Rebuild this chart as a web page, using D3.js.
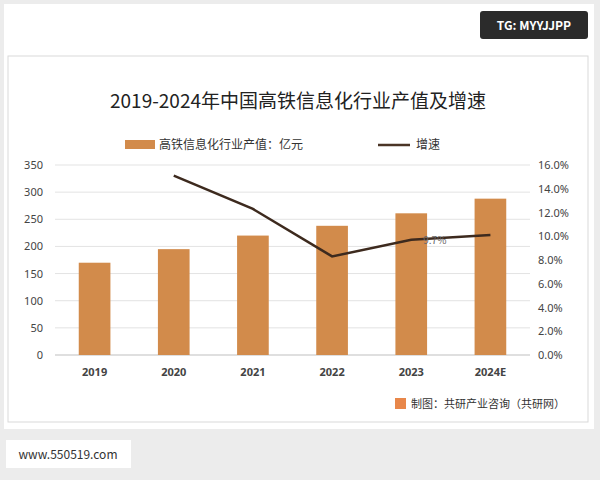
<!DOCTYPE html>
<html><head><meta charset="utf-8">
<script src="https://cdn.jsdelivr.net/npm/d3@7"></script>
<style>body{margin:0;background:#ececec;font-family:"Noto Sans CJK SC","Noto Sans",sans-serif}</style>
</head><body><svg id="c" width="600" height="480"></svg>
<script>
const years = ["2019", "2020", "2021", "2022", "2023", "2024E"];
const values = [170, 195, 220, 238, 261, 288]; // 亿元
const growth = [null, 15.1, 12.3, 8.3, 9.7, 10.1]; // %
const leftTicks = [0, 50, 100, 150, 200, 250, 300, 350];
const rightTicks = [0, 2, 4, 6, 8, 10, 12, 14, 16];

const svg = d3.select("#c");
svg.append("rect").attr("width", 600).attr("height", 480).attr("fill", "#ececec");
// card
svg.append("rect").attr("x", 4).attr("y", 4).attr("width", 590).attr("height", 425).attr("fill", "#fff");
svg.append("rect").attr("x", 8).attr("y", 56).attr("width", 580).attr("height", 366)
    .attr("fill", "#fff").attr("stroke", "#d9d9d9");

// badge
svg.append("rect").attr("x", 480).attr("y", 11).attr("width", 108).attr("height", 28).attr("rx", 3).attr("fill", "#2b2b2b");
svg.append("text").attr("x", 534).attr("y", 30).attr("text-anchor", "middle").attr("fill", "#fff")
    .style("font-size", "12px").style("font-weight", "bold").text("TG: MYYJJPP");

svg.append("rect").attr("x", 6).attr("y", 440).attr("width", 125).attr("height", 28).attr("fill", "#fff");
svg.append("text").attr("x", 68).attr("y", 459).attr("text-anchor", "middle").attr("fill", "#333")
    .style("font-size", "12px").text("www.550519.com");

svg.append("text").attr("x", 298).attr("y", 108).attr("text-anchor", "middle").attr("fill", "#222")
    .style("font-size", "19px").text("2019-2024年中国高铁信息化行业产值及增速");

// legend
svg.append("rect").attr("x", 125).attr("y", 140).attr("width", 30).attr("height", 9).attr("fill", "#d28b4b");
svg.append("text").attr("x", 159).attr("y", 149).style("font-size", "12px").attr("fill", "#333").text("高铁信息化行业产值：亿元");
svg.append("line").attr("x1", 378).attr("x2", 410).attr("y1", 145).attr("y2", 145).attr("stroke", "#4a3426").attr("stroke-width", 2.5);
svg.append("text").attr("x", 416).attr("y", 149).style("font-size", "12px").attr("fill", "#333").text("增速");

const plotL = 55, plotR = 530, plotT = 165, plotB = 355;
const x = d3.scaleBand().domain(years).range([plotL, plotR]).paddingInner(0.6).paddingOuter(0.3);
const y = d3.scaleLinear().domain([0, 350]).range([plotB, plotT]);
const y2 = d3.scaleLinear().domain([0, 16]).range([plotB, plotT]);

const g = svg.append("g");
g.selectAll("line.grid").data(leftTicks).enter().append("line")
    .attr("x1", plotL).attr("x2", plotR).attr("y1", d => y(d)).attr("y2", d => y(d))
    .attr("stroke", d => d === 0 ? "#bfbfbf" : "#e3e3e3");

const ax = g.append("g").attr("transform", `translate(${plotL},0)`)
    .call(d3.axisLeft(y).tickValues(leftTicks).tickSize(0).tickPadding(12));
const ax2 = g.append("g").attr("transform", `translate(${plotR},0)`)
    .call(d3.axisRight(y2).tickValues(rightTicks).tickSize(0).tickPadding(8).tickFormat(d => d.toFixed(1) + "%"));
const axb = g.append("g").attr("transform", `translate(0,${plotB})`)
    .call(d3.axisBottom(x).tickSize(0).tickPadding(13));
[ax, ax2, axb].forEach(a => { a.select(".domain").remove(); a.selectAll("text").attr("fill", "#444").style("font-size", "11px").style("font-family", "Noto Sans, sans-serif"); });
axb.selectAll("text").style("font-weight", "bold");

g.selectAll("rect.bar").data(values).enter().append("rect")
    .attr("x", (d, i) => x(years[i])).attr("width", x.bandwidth())
    .attr("y", d => y(d)).attr("height", d => plotB - y(d)).attr("fill", "#d28b4b");

const pts = years.map((yr, i) => [yr, growth[i]]).filter(p => p[1] !== null);
g.append("path").datum(pts)
    .attr("d", d3.line().x(p => x(p[0]) + x.bandwidth() / 2).y(p => y2(p[1])))
    .attr("fill", "none").attr("stroke", "#3d2a1e").attr("stroke-width", 2.5);
g.append("text").attr("x", x("2023") + x.bandwidth() / 2 + 12).attr("y", y2(9.7) + 4)
    .style("font-size", "10px").attr("fill", "#666").text("9.7%");

// footer
svg.append("rect").attr("x", 395).attr("y", 398).attr("width", 11).attr("height", 11).attr("fill", "#e8874a");
svg.append("text").attr("x", 411).attr("y", 408).style("font-size", "11px").attr("fill", "#333").text("制图：共研产业咨询（共研网）");
</script></body></html>
